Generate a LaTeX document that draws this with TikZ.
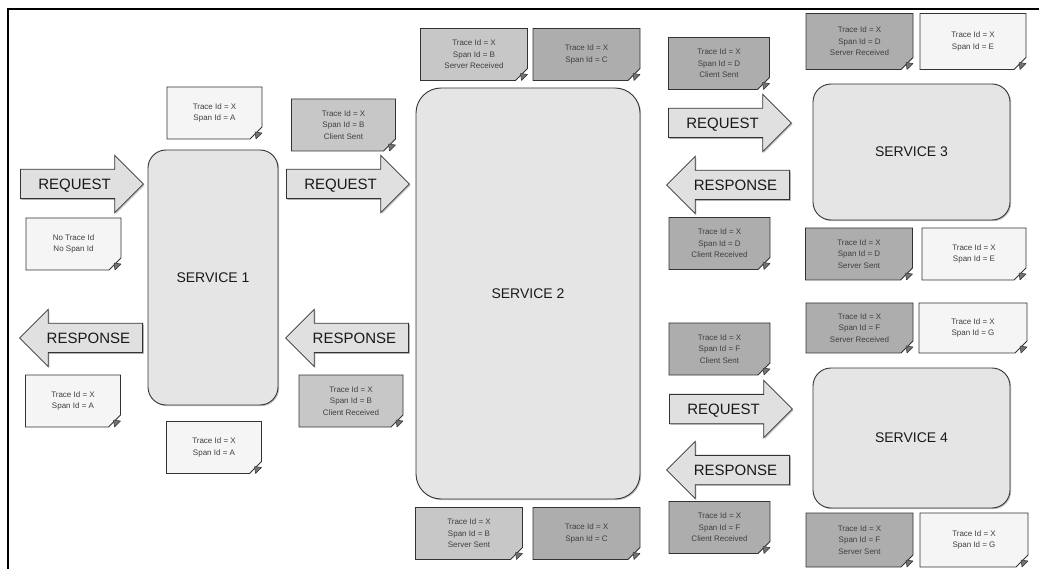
\documentclass[tikz,border=0pt]{standalone}
\usepackage{fontspec}
\setmainfont{Liberation Sans}
\usetikzlibrary{shapes.misc,shapes.arrows,shadows}

\begin{document}
\begin{tikzpicture}[x=1pt,y=-1pt]
        % Style definitions
        \tikzset{
            frameline/.style={black, line width=1.2pt},
            service/.style={draw=black!80, fill=black!10, line width=0.9pt, rounded corners=18pt,
                drop shadow={shadow xshift=1.2pt, shadow yshift=-1.2pt, fill=black!45},
                font=\fontsize{14}{16}\selectfont, text=black!90},
            reqarrow/.style={single arrow, draw=black!80, fill=black!12, line width=0.8pt,
                single arrow head extend=14pt, single arrow tip angle=90, minimum height=123pt,
                inner xsep=4pt, inner ysep=9pt, text height=10.5pt, text depth=0pt,
                drop shadow={shadow xshift=1.2pt, shadow yshift=-1.2pt, fill=black!45},
                font=\fontsize{15}{17}\selectfont, text=black!90, anchor=tail},
            resarrow/.style={reqarrow, shape border rotate=180},
            note/.style={chamfered rectangle, chamfered rectangle corners=south east,
                chamfered rectangle xsep=6pt, chamfered rectangle ysep=6pt,
                draw=black!80, line width=0.8pt, inner sep=0pt, outer sep=0pt,
                minimum width=95pt, minimum height=52pt, align=center,
                font=\fontsize{8}{11.5}\selectfont, text=black!75},
            whitenote/.style={note, fill=black!4},
            greynote/.style={note, fill=black!22, minimum width=104pt},
            darknote/.style={note, fill=black!32, minimum width=104pt},
            foldcorner/.style={fill=black!55, draw=black!80, line width=0.5pt, line join=round}
        }

        \fill[white] (0,0) rectangle (1039,569);
        \useasboundingbox (0,0) rectangle (1039,569);
        \draw[frameline] (8,569) -- (8,9) -- (1039,9);

        % ==========================================
        % SERVICES
        % ==========================================

        \node[service, minimum width=130pt, minimum height=255pt] (svc1) at (213,277.5) {SERVICE 1};
        \node[service, minimum width=224pt, minimum height=411pt, rounded corners=25pt] (svc2) at (528,293.5) {SERVICE 2};
        \node[service, minimum width=197pt, minimum height=136pt] (svc3) at (911.5,152) {SERVICE 3};
        \node[service, minimum width=197pt, minimum height=140pt] (svc4) at (911.5,438) {SERVICE 4};

        % ==========================================
        % REQUEST / RESPONSE ARROWS
        % ==========================================

        \node[reqarrow] (req1) at (20,184) {REQUEST};
        \node[resarrow] (res1) at (143,338) {RESPONSE};

        \node[reqarrow] (req2) at (286,184) {REQUEST};
        \node[resarrow] (res2) at (409,338) {RESPONSE};

        \node[reqarrow] (req3) at (668,123) {REQUEST};
        \node[resarrow] (res3) at (790,185) {RESPONSE};

        \node[reqarrow] (req4) at (669,409) {REQUEST};
        \node[resarrow] (res4) at (790,470) {RESPONSE};

        % ==========================================
        % TRACE NOTES
        % ==========================================

        \node[whitenote] (notrace) at (73.5,244) {No Trace Id\\No Span Id};
        \node[whitenote] (resa) at (73,401) {Trace Id = X\\Span Id = A};
        \node[whitenote] (s1in) at (214.5,113) {Trace Id = X\\Span Id = A};
        \node[whitenote] (s1out) at (214,447.5) {Trace Id = X\\Span Id = A};

        \node[greynote] (bcsent) at (343.5,125) {Trace Id = X\\Span Id = B\\Client Sent};
        \node[greynote] (bcrecv) at (351,401) {Trace Id = X\\Span Id = B\\Client Received};
        \node[greynote, minimum width=107pt] (bsrecv) at (474,54.5) {Trace Id = X\\Span Id = B\\Server Received};
        \node[greynote, minimum width=107pt] (bssent) at (469,533.5) {Trace Id = X\\Span Id = B\\Server Sent};
        \node[darknote, minimum width=107pt] (ctop) at (586.5,54.5) {Trace Id = X\\Span Id = C};
        \node[darknote, minimum width=107pt] (cbot) at (586.5,533.5) {Trace Id = X\\Span Id = C};

        \node[darknote, minimum width=101pt] (dcsent) at (719,63.5) {Trace Id = X\\Span Id = D\\Client Sent};
        \node[darknote, minimum width=101pt] (dcrecv) at (719.5,243.5) {Trace Id = X\\Span Id = D\\Client Received};
        \node[darknote, minimum width=101pt] (fcsent) at (719.5,349) {Trace Id = X\\Span Id = F\\Client Sent};
        \node[darknote, minimum width=101pt] (fcrecv) at (719.5,527.5) {Trace Id = X\\Span Id = F\\Client Received};

        \node[darknote, minimum width=107pt, minimum height=56pt] (dsrecv) at (859.5,41.5) {Trace Id = X\\Span Id = D\\Server Received};
        \node[whitenote, minimum width=106pt, minimum height=56pt] (etop) at (973,41.5) {Trace Id = X\\Span Id = E};
        \node[darknote, minimum width=107pt] (dssent) at (859,254) {Trace Id = X\\Span Id = D\\Server Sent};
        \node[whitenote, minimum width=104pt] (ebot) at (974,254) {Trace Id = X\\Span Id = E};
        \node[darknote, minimum width=107pt, minimum height=50pt] (fsrecv) at (859.5,328) {Trace Id = X\\Span Id = F\\Server Received};
        \node[whitenote, minimum width=108pt, minimum height=50pt] (gtop) at (973,328) {Trace Id = X\\Span Id = G};
        \node[darknote, minimum width=107pt, minimum height=54pt] (fssent) at (859.5,540) {Trace Id = X\\Span Id = F\\Server Sent};
        \node[whitenote, minimum width=108pt, minimum height=54pt] (gbot) at (974,540) {Trace Id = X\\Span Id = G};

        % folded corners
        \foreach \n in {notrace,resa,s1in,s1out,bcsent,bcrecv,bsrecv,bssent,ctop,cbot,
                        dcsent,dcrecv,fcsent,fcrecv,dsrecv,etop,dssent,ebot,fsrecv,gtop,fssent,gbot}
            \filldraw[foldcorner] (\n.east |- \n.south) ++(-6,0) -- ++(6,-6) -- ++(-7,-1) -- cycle;
    \end{tikzpicture}
\end{document}
